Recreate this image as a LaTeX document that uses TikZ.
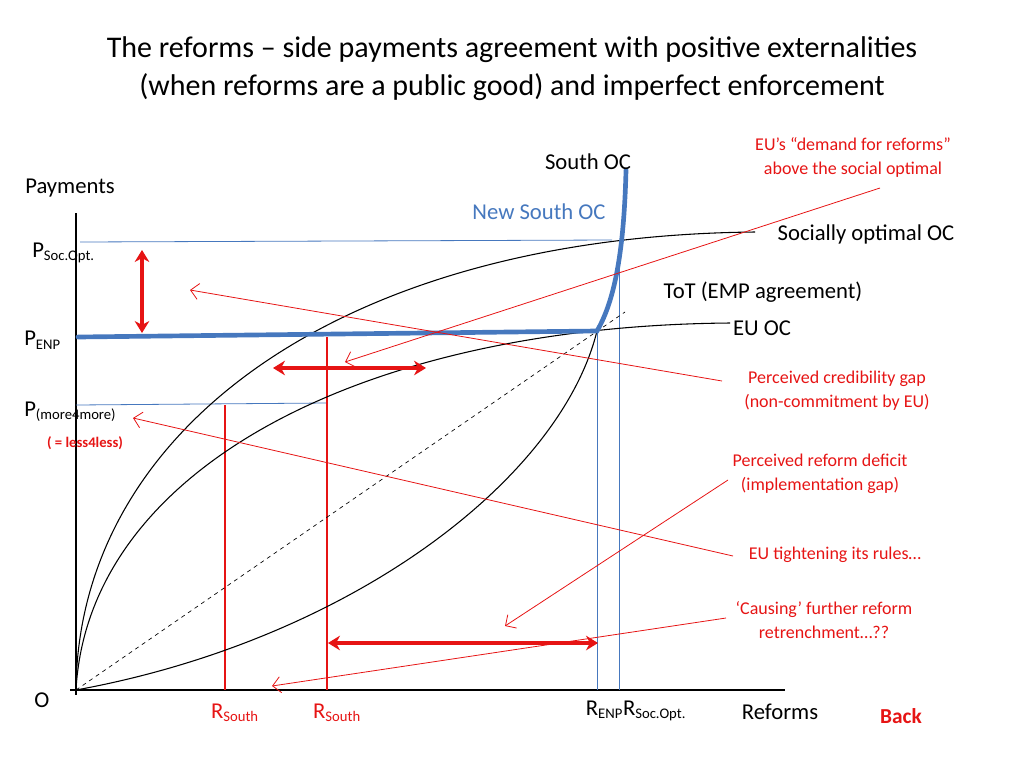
\documentclass[tikz,border=0pt]{standalone}
\usepackage{fontspec}
\setmainfont{Carlito}
\usetikzlibrary{arrows.meta}
\definecolor{rd}{RGB}{230,20,20}
\definecolor{bl}{RGB}{70,120,190}
\newcommand{\sbs}[1]{\textsubscript{\fontsize{11}{11}\selectfont #1}}
\tikzset{lbl/.style={inner sep=0pt,font=\fontsize{17}{19}\selectfont},
 rlbl/.style={inner sep=0pt,text=rd,align=center,font=\fontsize{13.5}{18}\selectfont},
 thinred/.style={draw=rd,line width=0.8pt},
 thinblue/.style={draw=bl,line width=0.6pt},
 bigarrow/.style={draw=rd,line width=2.6pt,{Stealth[length=9pt,width=11pt]}-{Stealth[length=9pt,width=11pt]}},
 ptr/.style={draw=rd,line width=0.6pt,-{Straight Barb[length=6pt]}}}
\begin{document}
\begin{tikzpicture}[x=0.75pt,y=-0.75pt]
\useasboundingbox (0,0) rectangle (1024,768);
\node[lbl,font=\fontsize{22.5}{28.5}\selectfont,align=center] (title) at (512,69) {The reforms -- side payments agreement with positive externalities\\(when reforms are a public good) and imperfect enforcement};
% axes
\coordinate (o) at (76,690);
\draw[line width=0.8pt] (76,213) -- (76,695);
\draw[line width=0.8pt] (70,690) -- (785,690);
\node[lbl] (O) at (42,700) {O};
\node[lbl] (pay) at (70,188) {Payments};
\node[lbl] (ref) at (780,712) {Reforms};
% thin guide lines
\draw[thinblue] (80,242) -- (612,240);
\draw[thinblue] (76,405) -- (327,403);
\draw[thinblue] (597,331) -- (597,690);
\draw[thinblue] (619,262) -- (619,690);
\draw[thinred] (225,405) -- (225,690);
\draw[thinred] (327,337) -- (327,690);
% curves
\draw[dashed,line width=0.5pt] (o) -- (625,312);
\draw[line width=0.8pt] (o) .. controls (78,430) and (340,236) .. (755,232);
\draw[line width=0.8pt] (o) .. controls (88,470) and (360,326) .. (730,323);
\draw[line width=0.8pt] (o) .. controls (350,640) and (560,480) .. (597,331);
% new south OC
\draw[draw=bl,line width=3.5pt,line cap=round] (78,337) -- (597,331) .. controls (615,300) and (624,250) .. (626,170);
% big arrows
\draw[bigarrow] (142,250) -- (142,333);
\draw[bigarrow] (273,368) -- (426,368);
\draw[bigarrow] (328,643) -- (598,643);
% labels
\node[lbl] (soc) at (588,162) {South OC};
\node[lbl,text=bl] (nsoc) at (539,212) {New South OC};
\node[lbl] (sooc) at (866,234) {Socially optimal OC};
\node[lbl] (tot) at (763,292) {ToT (EMP agreement)};
\node[lbl] (euoc) at (762,328) {EU OC};
\node[lbl,anchor=west] (ps) at (32,253) {P\sbs{Soc.Opt.}};
\node[lbl,anchor=west] (pe) at (24,340) {P\sbs{ENP}};
\node[lbl,anchor=west] (pm) at (24,412) {P\sbs{(more4more)}};
\node[inner sep=0pt,text=rd,font=\bfseries\fontsize{11}{11}\selectfont] (ll) at (85,443) {( = less4less)};
\node[lbl,text=rd] (rs1) at (235,713) {R\sbs{South}};
\node[lbl,text=rd] (rs2) at (337,713) {R\sbs{South}};
\node[lbl] (renp) at (636,711) {R\sbs{ENP}R\sbs{Soc.Opt.}};
\node[inner sep=0pt,text=rd,font=\bfseries\fontsize{16}{16}\selectfont] (back) at (901,716) {Back};
\node[rlbl] (t1) at (853,157) {EU's ``demand for reforms''\\above the social optimal};
\node[rlbl] (t2) at (837,391) {Perceived credibility gap\\(non-commitment by EU)};
\node[rlbl] (t3) at (820,474) {Perceived reform deficit\\(implementation gap)};
\node[rlbl] (t4) at (835,555) {EU tightening its rules…};
\node[rlbl] (t5) at (824,620) {`Causing' further reform\\retrenchment…??};
\coordinate (a1) at (345,362);
\coordinate (a2) at (190,290);
\coordinate (a3) at (505,626);
\coordinate (a4) at (133,418);
\coordinate (a5) at (272,686);
\draw[ptr] (880,188) -- (a1);
\draw[ptr] (722,381) -- (a2);
\draw[ptr] (728,480) -- (a3);
\draw[ptr] (733,556) -- (a4);
\draw[ptr] (726,618) -- (a5);
\end{tikzpicture}
\end{document}
